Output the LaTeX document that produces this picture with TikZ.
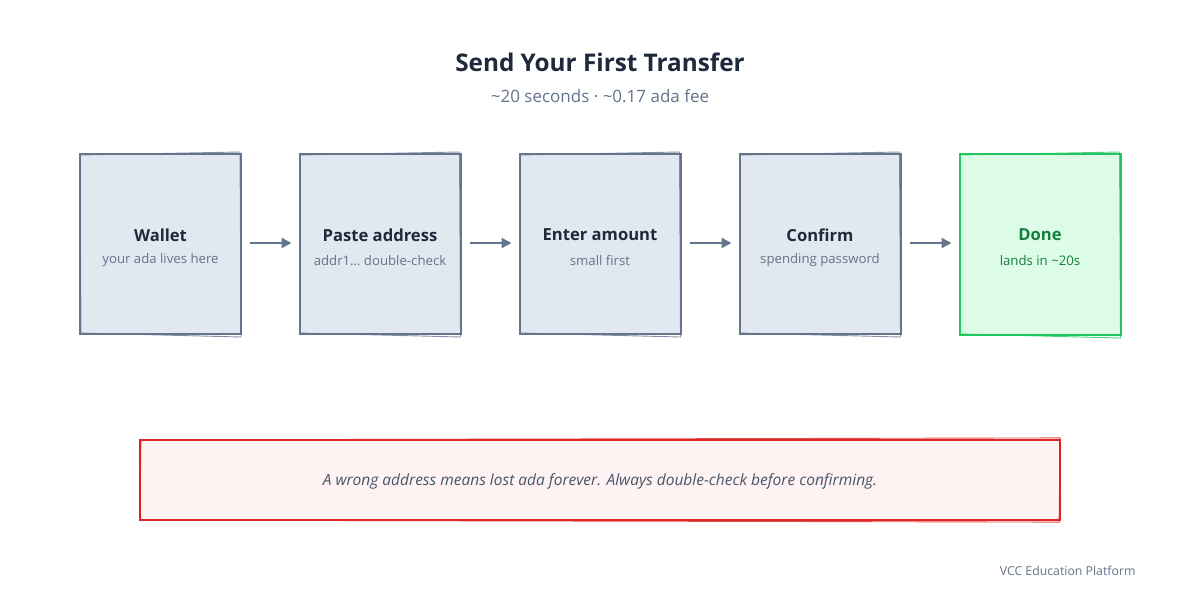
\documentclass[tikz,border=0pt]{standalone}
\usepackage{fontspec}
\setmainfont{Open Sans}
\usetikzlibrary{arrows.meta}
\definecolor{boxfill}{HTML}{E2E8F0}
\definecolor{boxline}{HTML}{64748B}
\definecolor{dark}{HTML}{1E293B}
\definecolor{sub}{HTML}{64748B}
\definecolor{donefill}{HTML}{DCFCE7}
\definecolor{doneline}{HTML}{22C55E}
\definecolor{donetext}{HTML}{15803D}
\definecolor{warnfill}{HTML}{FEF2F2}
\definecolor{warnline}{HTML}{DC2626}
\definecolor{warntext}{HTML}{475569}
\tikzset{
  stepbox/.style={draw=boxline, fill=boxfill, line width=2pt, minimum width=161pt, minimum height=180pt, inner sep=0pt},
  donebox/.style={draw=doneline, fill=donefill, line width=2pt, minimum width=161pt, minimum height=181pt, inner sep=0pt},
  warnbox/.style={draw=warnline, fill=warnfill, line width=2.2pt, minimum width=920pt, minimum height=80pt, inner sep=0pt},
  steptitle/.style={font=\fontsize{16.6}{20}\selectfont\bfseries, text=dark},
  stepsub/.style={font=\fontsize{13.2}{16}\selectfont, text=sub},
  flow/.style={draw=boxline, line width=2.2pt, -{Triangle[length=10pt,width=10pt]}},
  jitter/.style={line width=0.9pt, opacity=0.8}
}
\begin{document}
\begin{tikzpicture}[x=1pt,y=-1pt]
\useasboundingbox[fill=white] (0,0) rectangle (1200,600);
\node[font=\fontsize{24.3}{28}\selectfont\bfseries, text=dark] (title) at (600,62) {Send Your First Transfer};
\node[font=\fontsize{17}{20}\selectfont, text=sub] (subtitle) at (600,96) {\char"007E 20 seconds · \char"007E 0.17 ada fee};

\node[stepbox] (s1) at (160.5,244) {};
\node[stepbox] (s2) at (380,244) {};
\node[stepbox] (s3) at (600,244) {};
\node[stepbox] (s4) at (820,244) {};
\node[donebox] (s5) at (1040,244.5) {};

\foreach \n in {s1,s2,s3,s4}{
  \draw[boxline, jitter] ([shift={(1,2)}]\n.north west) -- ([shift={(-2,-1)}]\n.north east) -- ([shift={(-1,2)}]\n.south east) -- ([shift={(2,-2)}]\n.south west) -- cycle;
}
\draw[doneline, jitter] ([shift={(1,2)}]s5.north west) -- ([shift={(-2,-1)}]s5.north east) -- ([shift={(-1,2)}]s5.south east) -- ([shift={(2,-2)}]s5.south west) -- cycle;

\node[steptitle] (t1) at (160.5,235) {Wallet};
\node[stepsub] (u1) at (160.5,260.5) {your ada lives here};
\node[steptitle] (t2) at (380,235) {Paste address};
\node[stepsub] (u2) at (380,260.5) {addr1… double-check};
\node[steptitle] (t3) at (600,235) {Enter amount};
\node[stepsub] (u3) at (600,260.5) {small first};
\node[steptitle] (t4) at (820,235) {Confirm};
\node[stepsub] (u4) at (820,260.5) {spending password};
\node[steptitle, text=donetext] (t5) at (1040,235) {Done};
\node[stepsub, text=donetext] (u5) at (1040,260.5) {lands in \char"007E 20s};

\draw[flow] ([xshift=8pt,yshift=1pt]s1.east) -- ([xshift=-7pt,yshift=1pt]s2.west);
\draw[flow] ([xshift=8pt,yshift=1pt]s2.east) -- ([xshift=-7pt,yshift=1pt]s3.west);
\draw[flow] ([xshift=8pt,yshift=1pt]s3.east) -- ([xshift=-7pt,yshift=1pt]s4.west);
\draw[flow] ([xshift=8pt,yshift=1pt]s4.east) -- ([xshift=-7pt,yshift=1.5pt]s5.west);

\node[warnbox] (warn) at (600,480) {};
\draw[warnline, jitter] ([shift={(2,1)}]warn.north west) -- ([shift={(-1,-1)}]warn.north east) -- ([shift={(-2,1)}]warn.south east) -- ([shift={(1,-1)}]warn.south west) -- cycle;
\node[font=\fontsize{15.5}{18}\selectfont\itshape, text=warntext] (warntext) at (600,481) {A wrong address means lost ada forever. Always double-check before confirming.};

\node[font=\fontsize{12.3}{14}\selectfont, text=sub, anchor=east] (footer) at (1139,571) {VCC Education Platform};
\end{tikzpicture}
\end{document}
